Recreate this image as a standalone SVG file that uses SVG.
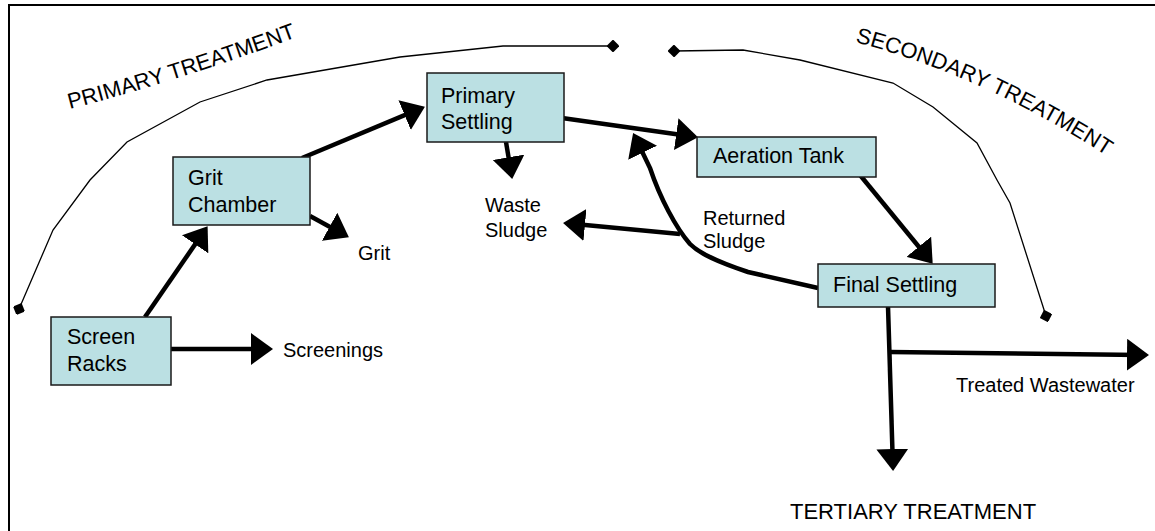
<svg xmlns="http://www.w3.org/2000/svg" width="1155" height="531" viewBox="0 0 1155 531">
<style>
text{font-family:"Liberation Sans",Arial,sans-serif;fill:#000}
.box{fill:#BBE0E3;stroke:#1a1a1a;stroke-width:1.5}
.bt{font-size:21.5px}
.lb{font-size:20px}
.big{font-size:22px}
.arr{fill:none;stroke:#000;stroke-width:4.5;marker-end:url(#ah)}
.thin{fill:none;stroke:#000;stroke-width:1.3;marker-start:url(#dm);marker-end:url(#dm)}
</style>
<defs>
<marker id="ah" markerUnits="userSpaceOnUse" viewBox="0 0 22 32" refX="13" refY="16" markerWidth="22" markerHeight="32" orient="auto">
<path d="M0,0 L22,16 L0,32 Z" fill="#000"/>
</marker>
<marker id="dm" markerUnits="userSpaceOnUse" viewBox="-6 -6 12 12" refX="0" refY="0" markerWidth="12" markerHeight="12" orient="auto">
<path d="M0,-6.5 L6.5,0 L0,6.5 L-6.5,0 Z" fill="#000"/>
</marker>
<path id="p1" d="M70,109 Q175,82 300,36"/>
<path id="p2" d="M855,42 Q985,76 1110,158"/>
</defs>
<rect x="9" y="5" width="1200" height="600" fill="#fff" stroke="#000" stroke-width="2"/>
<g id="connectors">
<path class="thin" d="M19,309 L53,230 L90,180 L127,142 L200,102 L267,80 L400,57 L503,46 L613,46"/>
<path class="thin" d="M674,51 L743,50 L800,60 L893,83 L933,107 L977,143 L997,180 L1010,203 L1046,316"/>
<path class="arr" d="M145,317 L202.5,233.6"/>
<path class="arr" d="M171,349 L264,349"/>
<path class="arr" d="M310,216 L341,233"/>
<path class="arr" d="M302,158 L416.6,110.1"/>
<path class="arr" d="M506,142 L510.7,170.1"/>
<path class="arr" d="M562,118 L689.1,135.9"/>
<path class="arr" d="M860,175 L927,256.8"/>
<path class="arr" d="M818,288 L748,272 C718,262 700,254 690,244 C676,228 660,198 650,168 L637,141"/>
<path class="arr" d="M680,234 L572,223.8"/>
<path class="arr" d="M888,306 L892.8,462"/>
<path class="arr" d="M890,352 L1140,354.9"/>
</g>
<g id="screen-racks">
<rect class="box" x="51" y="317" width="120" height="68"/>
<text class="bt" x="67" y="344">Screen</text>
<text class="bt" x="67" y="371">Racks</text>
</g>
<g id="grit-chamber">
<rect class="box" x="173" y="157" width="137" height="68"/>
<text class="bt" x="188" y="185">Grit</text>
<text class="bt" x="188" y="212">Chamber</text>
</g>
<g id="primary-settling">
<rect class="box" x="427" y="73" width="137" height="69"/>
<text class="bt" x="441" y="103">Primary</text>
<text class="bt" x="441" y="129">Settling</text>
</g>
<g id="aeration-tank">
<rect class="box" x="697" y="137" width="179" height="40"/>
<text class="bt" x="713" y="163">Aeration Tank</text>
</g>
<g id="final-settling">
<rect class="box" x="818" y="264" width="177" height="43"/>
<text class="bt" x="833" y="292">Final Settling</text>
</g>
<g id="labels">
<text class="lb" x="283" y="357">Screenings</text>
<text class="lb" x="358" y="260">Grit</text>
<text class="lb" x="485" y="212">Waste</text>
<text class="lb" x="485" y="237">Sludge</text>
<text class="lb" x="703" y="225">Returned</text>
<text class="lb" x="703" y="248">Sludge</text>
<text class="lb" x="956" y="392">Treated Wastewater</text>
<text class="big" x="790" y="519">TERTIARY TREATMENT</text>
<text class="big"><textPath href="#p1">PRIMARY TREATMENT</textPath></text>
<text class="big"><textPath href="#p2">SECONDARY TREATMENT</textPath></text>
</g>
</svg>
